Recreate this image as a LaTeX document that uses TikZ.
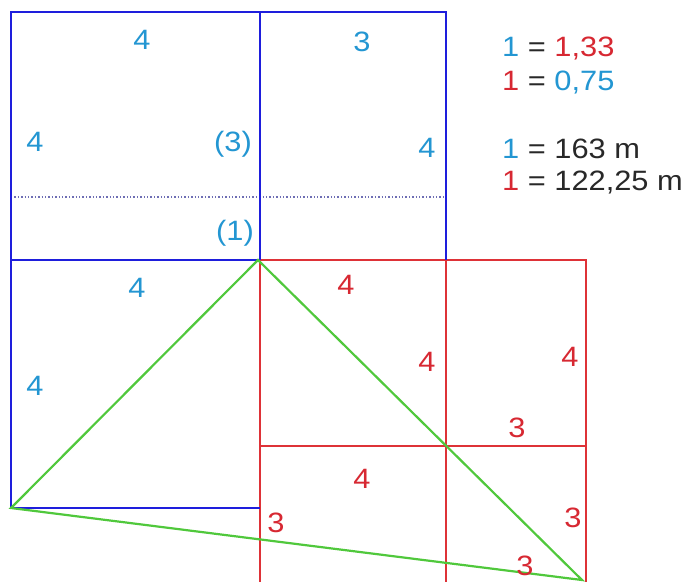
\documentclass[tikz,border=0pt]{standalone}
\usepackage{fontspec}
\setmainfont{Liberation Sans}
\newcommand{\wide}[1]{\scalebox{1.1}[1]{#1}}
\begin{document}
\begin{tikzpicture}[x=1pt,y=-1pt,
  bl/.style={draw={rgb,255:red,30;green,30;blue,220},line width=2.2pt},
  rd/.style={draw={rgb,255:red,222;green,50;blue,55},line width=2.2pt},
  gr/.style={draw={rgb,255:red,80;green,200;blue,60},line width=2.2pt},
  dt/.style={draw={rgb,255:red,110;green,110;blue,180},line width=1.4pt,dotted},
  lc/.style={text={rgb,255:red,35;green,150;blue,210},font=\fontsize{28}{32}\selectfont,inner sep=0pt},
  lr/.style={text={rgb,255:red,215;green,40;blue,50},font=\fontsize{28}{32}\selectfont,inner sep=0pt},
  lg/.style={font=\fontsize{28}{32}\selectfont,inner sep=0pt,anchor=base west,text={rgb,255:red,40;green,40;blue,40}}
]
\useasboundingbox (0,0) rectangle (687,582);
\definecolor{cy}{RGB}{35,150,210}
\definecolor{rr}{RGB}{215,40,50}
% coordinates
\coordinate (A) at (11,12);
\coordinate (B) at (260,12);
\coordinate (C) at (446,12);
\coordinate (D) at (11,260);
\coordinate (E) at (260,260);
\coordinate (F) at (446,260);
\coordinate (G) at (586,260);
\coordinate (H) at (11,508);
\coordinate (I) at (260,508);
\coordinate (J) at (260,446);
\coordinate (K) at (446,446);
\coordinate (L) at (586,446);
\coordinate (M) at (260,582);
\coordinate (N) at (446,582);
\coordinate (O) at (586,582);
\coordinate (P) at (582,580);
\coordinate (Q1) at (11,197);
\coordinate (Q2) at (446,197);
\coordinate (T) at (258,260);
% dotted
\draw[dt] (Q1) -- (Q2);
% red
\draw[rd] (E) -- (G) -- (O);
\draw[rd] (E) -- (M);
\draw[rd] (F) -- (N);
\draw[rd] (J) -- (L);
% blue
\draw[bl] (H) -- (A) -- (C) -- (F);
\draw[bl] (B) -- (E);
\draw[bl] (D) -- (E);
\draw[bl] (H) -- (I);
% green
\draw[gr] (H) -- (T) -- (P) -- cycle;
% labels
\node[lc] (t1) at (142,40) {\wide{4}};
\node[lc] (t2) at (362,42) {\wide{3}};
\node[lc] (t3) at (35,142) {\wide{4}};
\node[lc] (t4) at (233,144) {\wide{(3)}};
\node[lc] (t5) at (427,148) {\wide{4}};
\node[lc] (t6) at (235,233) {\wide{(1)}};
\node[lc] (t7) at (137,288) {\wide{4}};
\node[lc] (t8) at (35,386) {\wide{4}};
\node[lr] (r1) at (346,285) {\wide{4}};
\node[lr] (r2) at (427,362) {\wide{4}};
\node[lr] (r3) at (570,357) {\wide{4}};
\node[lr] (r4) at (517,428) {\wide{3}};
\node[lr] (r5) at (362,479) {\wide{4}};
\node[lr] (r6) at (276,523) {\wide{3}};
\node[lr] (r7) at (573,518) {\wide{3}};
\node[lr] (r8) at (525,566) {\wide{3}};
% legend
\node[lg] (g1) at (502,56) {\wide{\textcolor{cy}{1} = \textcolor{rr}{1,33}}};
\node[lg] (g2) at (502,90) {\wide{\textcolor{rr}{1} = \textcolor{cy}{0,75}}};
\node[lg] (g3) at (502,158) {\wide{\textcolor{cy}{1} = 163 m}};
\node[lg] (g4) at (502,190) {\wide{\textcolor{rr}{1} = 122,25 m}};
\end{tikzpicture}
\end{document}
